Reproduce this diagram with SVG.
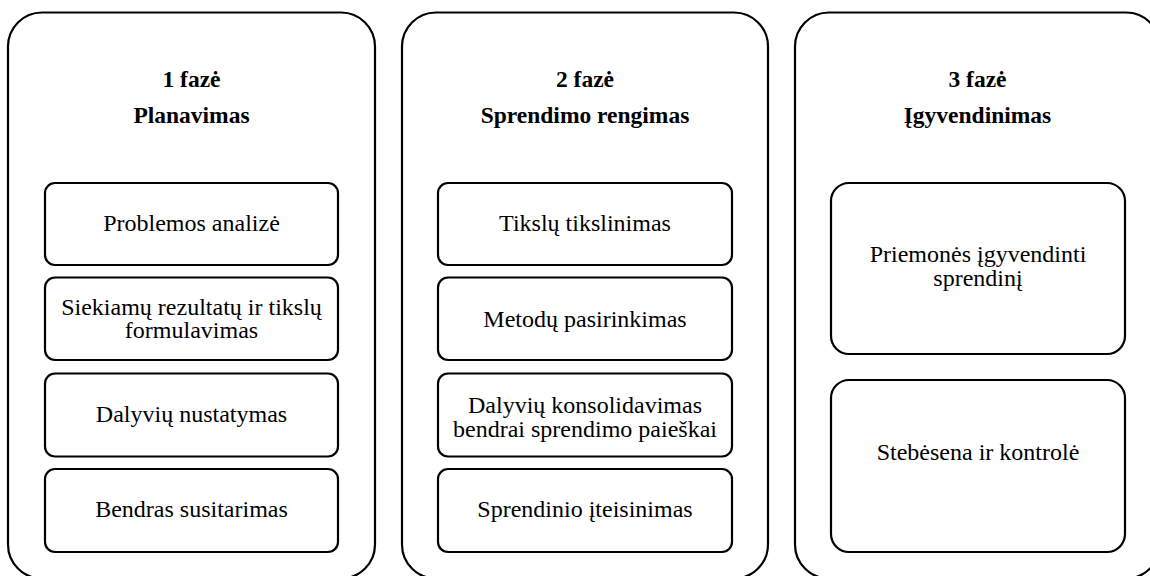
<svg xmlns="http://www.w3.org/2000/svg" width="1150" height="576" viewBox="0 0 1150 576">
  <style>
    .phase { fill: #ffffff; stroke: #000000; stroke-width: 2.2; }
    .step { fill: #ffffff; stroke: #000000; stroke-width: 2.2; }
    text { font-family: 'Liberation Serif', 'Times New Roman', Times, serif; fill: #000000; text-anchor: middle; }
    .title { font-size: 23.5px; font-weight: bold; }
    .label { font-size: 24px; }
  </style>
  <rect x="0" y="0" width="1150" height="576" fill="#ffffff"/>

  <g font-family="Liberation Serif, Times New Roman, serif">
  <!-- Phase 1: planning -->
  <g id="phase1">
    <rect class="phase" x="8" y="12.5" width="367" height="566" rx="34" ry="34"/>
    <text class="title" x="191.5" y="87">1 fazė</text>
    <text class="title" x="191.5" y="122.5">Planavimas</text>
  </g>
  <g id="p1-analysis">
    <rect class="step" x="45" y="183" width="293" height="82" rx="10" ry="10"/>
    <text class="label" x="191.5" y="231">Problemos analizė</text>
  </g>
  <g id="p1-goals">
    <rect class="step" x="45" y="277.5" width="293" height="82.5" rx="10" ry="10"/>
    <text class="label" x="191.5" y="314.5">Siekiamų rezultatų ir tikslų</text>
    <text class="label" x="191.5" y="338">formulavimas</text>
  </g>
  <g id="p1-participants">
    <rect class="step" x="45" y="373.5" width="293" height="83" rx="10" ry="10"/>
    <text class="label" x="191.5" y="421.5">Dalyvių nustatymas</text>
  </g>
  <g id="p1-agreement">
    <rect class="step" x="45" y="469" width="293" height="83" rx="10" ry="10"/>
    <text class="label" x="191.5" y="516.5">Bendras susitarimas</text>
  </g>

  <!-- Phase 2: preparing the decision -->
  <g id="phase2">
    <rect class="phase" x="402" y="12.5" width="366" height="566" rx="34" ry="34"/>
    <text class="title" x="585" y="87">2 fazė</text>
    <text class="title" x="585" y="122.5">Sprendimo rengimas</text>
  </g>
  <g id="p2-refine">
    <rect class="step" x="438" y="183" width="294" height="82" rx="10" ry="10"/>
    <text class="label" x="585" y="231">Tikslų tikslinimas</text>
  </g>
  <g id="p2-methods">
    <rect class="step" x="438" y="277.5" width="294" height="82.5" rx="10" ry="10"/>
    <text class="label" x="585" y="326.5">Metodų pasirinkimas</text>
  </g>
  <g id="p2-consolidation">
    <rect class="step" x="438" y="373.5" width="294" height="83" rx="10" ry="10"/>
    <text class="label" x="585" y="413">Dalyvių konsolidavimas</text>
    <text class="label" x="585" y="437">bendrai sprendimo paieškai</text>
  </g>
  <g id="p2-justification">
    <rect class="step" x="438" y="469" width="294" height="83" rx="10" ry="10"/>
    <text class="label" x="585" y="516.5">Sprendinio įteisinimas</text>
  </g>

  <!-- Phase 3: implementation -->
  <g id="phase3">
    <rect class="phase" x="795" y="12.5" width="365" height="566" rx="34" ry="34"/>
    <text class="title" x="977.5" y="87">3 fazė</text>
    <text class="title" x="977.5" y="122.5">Įgyvendinimas</text>
  </g>
  <g id="p3-means">
    <rect class="step" x="831" y="183" width="294" height="171" rx="18" ry="18"/>
    <text class="label" x="978" y="261.5">Priemonės įgyvendinti</text>
    <text class="label" x="978" y="285.5">sprendinį</text>
  </g>
  <g id="p3-monitoring">
    <rect class="step" x="831" y="380" width="294" height="172" rx="18" ry="18"/>
    <text class="label" x="978" y="460">Stebėsena ir kontrolė</text>
  </g>
  </g>

  <!-- no connectors between the phases -->
  <g id="connectors"/>
</svg>
